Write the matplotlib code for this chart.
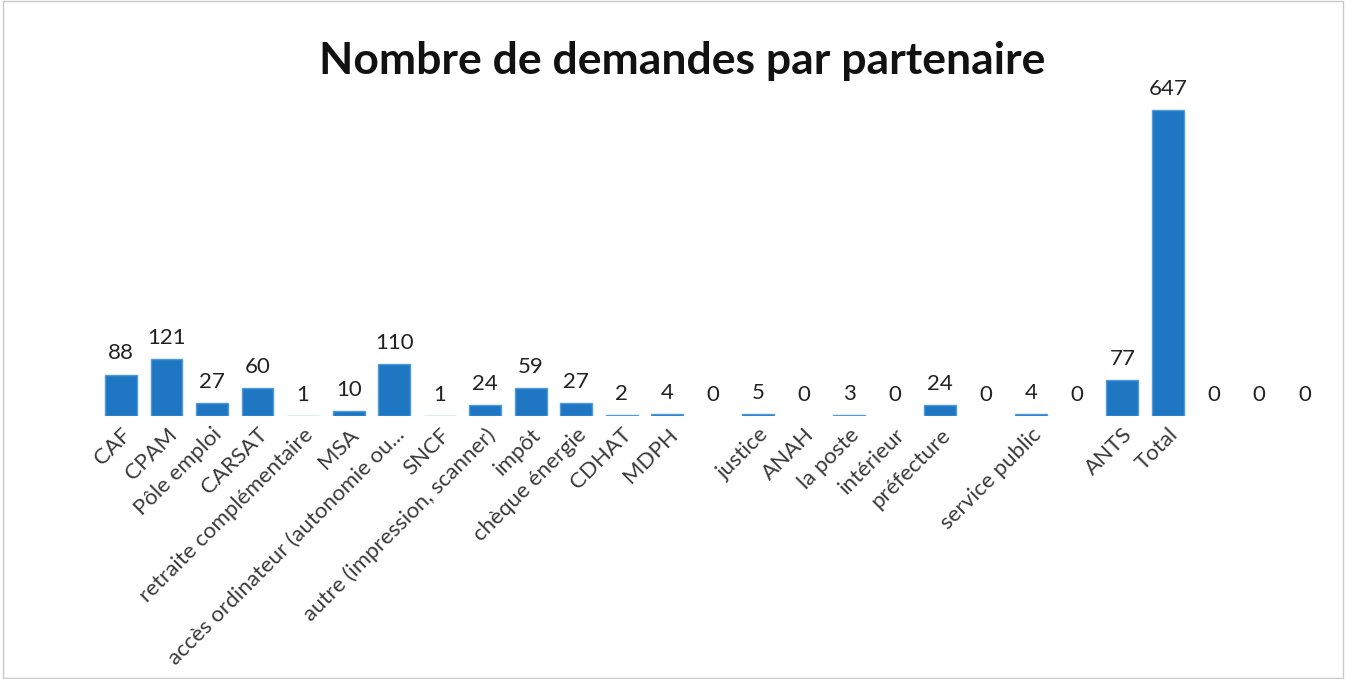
import matplotlib.pyplot as plt
import matplotlib.transforms as mtransforms
import numpy as np

# données
partenaires = ['CAF', 'CPAM', 'Pôle emploi', 'CARSAT', 'retraite complémentaire', 'MSA',
               'accès ordinateur (autonomie ou...', 'SNCF', 'autre (impression, scanner)',
               'impôt', 'chèque énergie', 'CDHAT', 'MDPH', '', 'justice', 'ANAH',
               'la poste', 'intérieur', 'préfecture', '', 'service public', '', 'ANTS',
               'Total', '', '', '']
demandes = [88, 121, 27, 60, 1, 10, 110, 1, 24, 59, 27, 2, 4, 0, 5, 0,
            3, 0, 24, 0, 4, 0, 77, 647, 0, 0, 0]

plt.rcParams['font.family'] = ['Lato', 'DejaVu Sans']

fig = plt.figure(figsize=(13.46, 6.79), dpi=100)
ax = fig.add_axes([0.073, 0.387, 0.913, 0.488])

x = np.arange(len(partenaires))
bords = ['#4f9bd8' if v > 0 else 'none' for v in demandes]
bars = ax.bar(x, demandes, width=0.7, color='#1f77c4', edgecolor=bords, linewidth=1.0)

for xi, v in zip(x, demandes):
    ax.annotate(str(v), (xi, v), xytext=(0, 8), textcoords='offset points',
                ha='center', va='bottom', fontsize=16, color='#222222')

ax.set_xlim(-0.5, len(partenaires) - 0.5)
ax.set_ylim(0, 700)
ax.set_xticks(x)
ax.set_xticklabels(partenaires, rotation=45, ha='right', rotation_mode='anchor',
                   fontsize=16, color='#3a3a3a')
decalage = mtransforms.ScaledTranslation(8 / 100, 0, fig.dpi_scale_trans)
for lab in ax.get_xticklabels():
    lab.set_transform(lab.get_transform() + decalage)
ax.tick_params(axis='x', length=0, pad=6)
ax.set_yticks([])
for s in ax.spines.values():
    s.set_visible(False)

fig.text(0.507, 0.91, 'Nombre de demandes par partenaire', ha='center', va='center',
         fontsize=32, fontweight='bold', color='#111111')

# cadre léger autour du graphique
fig.patches.append(plt.Rectangle((0.002, 0.002), 0.996, 0.996, transform=fig.transFigure,
                                 fill=False, edgecolor='#c8c8c8', linewidth=1))

fig.savefig('out.png', dpi=100)
